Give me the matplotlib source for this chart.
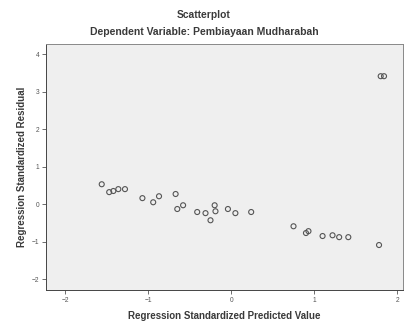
import matplotlib
matplotlib.use("Agg")
import matplotlib.pyplot as plt

plt.rcParams["font.family"] = ["Liberation Sans", "DejaVu Sans"]

# standardized predicted values and standardized residuals
pred = [-1.56, -1.47, -1.42, -1.36, -1.28, -1.07, -0.94, -0.87, -0.67, -0.65,
        -0.58, -0.41, -0.31, -0.25, -0.20, -0.19, -0.04, 0.05, 0.24, 0.75,
        0.90, 0.93, 1.10, 1.22, 1.30, 1.41, 1.78, 1.80, 1.84]
resid = [0.53, 0.32, 0.35, 0.40, 0.40, 0.16, 0.05, 0.21, 0.27, -0.13,
         -0.03, -0.21, -0.24, -0.43, -0.03, -0.19, -0.13, -0.24, -0.21, -0.59,
         -0.77, -0.72, -0.85, -0.83, -0.88, -0.88, -1.09, 3.41, 3.41]
xticks = [-2, -1, 0, 1, 2]
yticks = [-2, -1, 0, 1, 2, 3, 4]

fig = plt.figure(figsize=(4.08, 3.23), dpi=100)
ax = fig.add_axes([0.113, 0.102, 0.875, 0.762])
ax.set_facecolor("#efefef")

ax.scatter(pred, resid, s=13, facecolors="none", edgecolors="#555555", linewidths=0.8)

ax.set_xlim(-2.23, 2.07)
ax.set_ylim(-2.29, 4.27)
ax.set_xticks(xticks)
ax.set_yticks(yticks)
ax.tick_params(labelsize=4.8, colors="#555555", length=3, width=0.6, pad=2)
for sp in ax.spines.values():
    sp.set_color("#888888")
    sp.set_linewidth(0.7)
ax.spines["left"].set_color("#444444")
ax.spines["bottom"].set_color("#444444")

ax.set_xlabel("Regression Standardized Predicted Value", fontsize=7,
              fontweight="bold", color="#3a3a3a", labelpad=5)
ax.set_ylabel("Regression Standardized Residual", fontsize=7,
              fontweight="bold", color="#3a3a3a", labelpad=3)

fig.text(0.5, 0.953, "Scatterplot", ha="center", va="center",
         fontsize=7.4, fontweight="bold", color="#3a3a3a")
fig.text(0.5, 0.9, "Dependent Variable: Pembiayaan Mudharabah", ha="center",
         va="center", fontsize=7.5, fontweight="bold", color="#3a3a3a")

fig.savefig("out.png", dpi=100)
